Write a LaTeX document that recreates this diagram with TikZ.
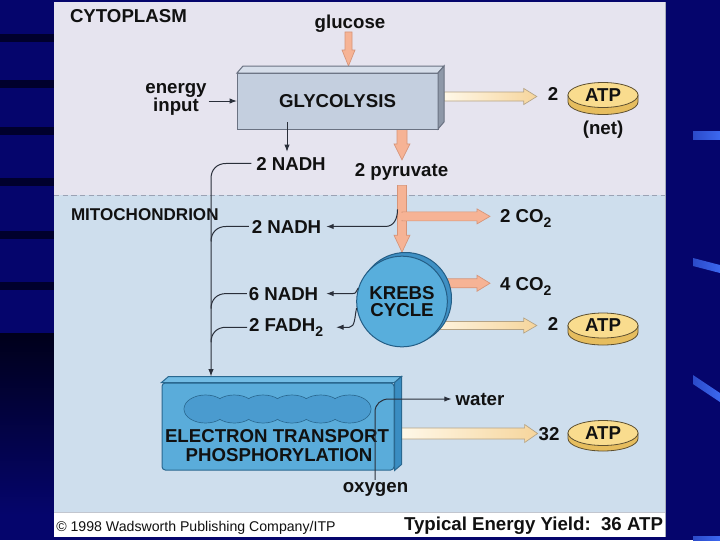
\documentclass[tikz,border=0pt]{standalone}
\usepackage{fontspec}
\setmainfont{Liberation Sans}
\usetikzlibrary{calc,arrows.meta,shapes.geometric}
\definecolor{navy}{HTML}{05056C}
\definecolor{stripe}{HTML}{00002C}
\definecolor{darkband}{HTML}{00001A}
\definecolor{deco}{HTML}{3C68F0}
\definecolor{cyto}{HTML}{E6E4EF}
\definecolor{mito}{HTML}{CEDEED}
\definecolor{dashcol}{HTML}{9AA2B4}
\definecolor{ink}{HTML}{111111}
\definecolor{wire}{HTML}{2A2F3A}
\definecolor{glyfront}{HTML}{C4CFDF}
\definecolor{glytop}{HTML}{D6DEEA}
\definecolor{glyside}{HTML}{8E98A8}
\definecolor{glyline}{HTML}{6A7282}
\definecolor{etpfront}{HTML}{5AACDA}
\definecolor{etptop}{HTML}{72BCE4}
\definecolor{etpside}{HTML}{3A8DC2}
\definecolor{etpline}{HTML}{2A6890}
\definecolor{chain}{HTML}{4A9BCF}
\definecolor{krebsfront}{HTML}{58AEDC}
\definecolor{krebsback}{HTML}{3F90C4}
\definecolor{krebsline}{HTML}{245E86}
\definecolor{salmon}{HTML}{F6B395}
\definecolor{salmonline}{HTML}{D69478}
\definecolor{creamL}{HTML}{FFF8E8}
\definecolor{creamR}{HTML}{F6D59C}
\definecolor{creamline}{HTML}{B5A385}
\definecolor{atptop}{HTML}{F9DC8E}
\definecolor{atpside}{HTML}{E6BD5E}
\definecolor{atpline}{HTML}{5E5030}
\definecolor{panelline}{HTML}{A8AEBB}
\pgfdeclarelayer{back}\pgfdeclarelayer{mid}\pgfsetlayers{back,mid,main}
\newcommand\subtwo{\raisebox{-3.4pt}{\fontsize{10.5}{10.5}\selectfont 2}}
\newcommand\vblock[6]{\path[#1] ($(#2)+(-#4,0)$) -- ($(#3)+(-#4,-#6)$) -- ($(#3)+(-#5,-#6)$) -- (#3) -- ($(#3)+(#5,-#6)$) -- ($(#3)+(#4,-#6)$) -- ($(#2)+(#4,0)$) -- cycle;}
\newcommand\hblock[6]{\path[#1] ($(#2)+(0,-#4)$) -- ($(#3)+(-#6,-#4)$) -- ($(#3)+(-#6,-#5)$) -- (#3) -- ($(#3)+(-#6,#5)$) -- ($(#3)+(-#6,#4)$) -- ($(#2)+(0,#4)$) -- cycle;}
\newcommand\atpdisc[4]{\path[fill=atpside, draw=atpline, line width=0.6pt] (#2-35,#3) -- (#2-35,#3+#4) arc[start angle=180, end angle=0, x radius=35, y radius=12.5] -- (#2+35,#3) -- cycle; \node[atpdisk] (#1) at (#2,#3) {ATP};}
\begin{document}
\begin{tikzpicture}[x=0.75pt,y=-0.75pt,
  lab/.style={font=\fontsize{14}{14}\selectfont\bfseries, text=ink, inner sep=0pt, outer sep=0pt},
  wireline/.style={draw=wire, line width=0.75pt},
  tipped/.style={-{Latex[length=5.5pt,width=4pt]}},
  salm/.style={fill=salmon, draw=salmonline, line width=0.5pt},
  cream/.style={left color=creamL, right color=creamR, draw=creamline, line width=0.5pt},
  atpdisk/.style={ellipse, fill=atptop, draw=atpline, line width=0.6pt, minimum width=52.5pt, minimum height=18.75pt, inner sep=0pt, font=\fontsize{14}{14}\selectfont\bfseries, text=ink}]
\useasboundingbox (0,0) rectangle (720,540);
\begin{pgfonlayer}{back}
\fill[navy] (0,0) rectangle (720,540);
\foreach \yy in {38,84,131,182,235,286} {\fill[stripe] (0,\yy-4) rectangle (54,\yy+4);}
\shade[top color=darkband, bottom color=navy] (0,333) rectangle (54,515);
\shade[left color=deco!70!navy, right color=deco] (693,131) rectangle (720,139);
\shade[left color=deco!70!navy, right color=deco] (693,258) -- (720,265) -- (720,273) -- (693,266) -- cycle;
\shade[left color=deco!70!navy, right color=deco] (693,375) -- (720,393) -- (720,402) -- (693,384) -- cycle;
\shade[left color=deco!70!navy, right color=deco] (693,536) rectangle (720,540);
\fill[cyto] (54,2) rectangle (665,195);
\fill[mito] (54,195) rectangle (665,512);
\fill[white] (54,512) rectangle (665,537);
\draw[panelline, line width=0.75pt] (665,2) -- (665,537);
\draw[panelline!70!white, line width=0.5pt] (54,512) -- (665,512);
\draw[dashcol, line width=0.6pt, dash pattern=on 4pt off 2.5pt] (54,195) -- (665,195);
\end{pgfonlayer}
% text labels
\node[lab, anchor=base west] (cyto) at (70,22.5) {CYTOPLASM};
\node[lab, anchor=base west, font=\fontsize{12.8}{12.8}\selectfont\bfseries] (mitolab) at (71,220) {MITOCHONDRION};
\node[lab, anchor=base] (glucose) at (350,28) {glucose};
\node[lab, anchor=base] (energy) at (176,93.5) {energy};
\node[lab, anchor=base] (input) at (176,111.5) {input};
\node[lab, anchor=base] (nadhA) at (291,170) {2 NADH};
\node[lab, anchor=base] (pyr) at (401.5,176.5) {2 pyruvate};
\node[lab, anchor=base] (nadhB) at (286.5,233) {2 NADH};
\node[lab, anchor=base west] (co2a) at (500,222.5) {2 CO\subtwo};
\node[lab, anchor=base] (nadhC) at (283.5,300) {6 NADH};
\node[lab, anchor=base west] (fadh) at (249,331.5) {2 FADH\subtwo};
\node[lab, anchor=base west] (co2b) at (500,290.5) {4 CO\subtwo};
\node[lab, anchor=base] (twoA) at (553,100) {2};
\node[lab, anchor=base] (net) at (603,134) {(net)};
\node[lab, anchor=base] (twoB) at (553,330) {2};
\node[lab, anchor=base] (water) at (480,405) {water};
\node[lab, anchor=base] (n32) at (549,440) {32};
\node[lab, anchor=base] (oxygen) at (375.5,492) {oxygen};
\node[font=\fontsize{10.6}{10.6}\selectfont, text=ink, inner sep=0pt, anchor=base west] (copy) at (56,531) {© 1998 Wadsworth Publishing Company/ITP};
\node[lab, anchor=base east] (yield) at (663,530) {Typical Energy Yield:\ \ 36 ATP};
% glycolysis box
\node[draw=glyline, fill=glyfront, line width=0.75pt, minimum width=150.75pt, minimum height=42pt, inner sep=0pt, lab] (gly) at (337.5,101) {GLYCOLYSIS};
\filldraw[fill=glytop, draw=glyline, line width=0.75pt] (gly.north west) -- ++(6,-7) -- ($(gly.north east)+(6,-7)$) -- (gly.north east) -- cycle;
\filldraw[fill=glyside, draw=glyline, line width=0.75pt] (gly.north east) -- ++(6,-7) -- ($(gly.south east)+(6,-7)$) -- (gly.south east) -- cycle;
% ETP box
\node[draw=etpline, fill=etpfront, line width=0.75pt, minimum width=174pt, minimum height=65.25pt, inner sep=0pt, rounded corners=2.5pt] (etp) at (278,426.5) {};
\filldraw[fill=etptop, draw=etpline, line width=0.75pt] (etp.north west) -- ++(7,-6) -- ($(etp.north east)+(7,-6)$) -- (etp.north east) -- cycle;
\filldraw[fill=etpside, draw=etpline, line width=0.75pt] (etp.north east) -- ++(7,-6) -- ($(etp.south east)+(7,-6)$) -- (etp.south east) -- cycle;
\foreach \i in {0,...,5} {\filldraw[fill=chain, draw=etpline, line width=0.5pt] (205.5+28.8*\i,409) ellipse [x radius=21.5, y radius=14];}
\foreach \i in {0,...,5} {\fill[chain] (205.5+28.8*\i,409) ellipse [x radius=20.8, y radius=13.3];}
\node[lab, anchor=base] (etp1) at (277,442.5) {ELECTRON TRANSPORT};
\node[lab, anchor=base] (etp2) at (279,461) {PHOSPHORYLATION};
% Krebs
\node[circle, fill=krebsback, draw=krebsline, line width=0.75pt, minimum size=69pt, inner sep=0pt] (krebsrim) at (405.5,298.5) {};
\node[circle, fill=krebsfront, draw=krebsline, line width=0.75pt, minimum size=68pt, inner sep=0pt, text=ink, font=\fontsize{14}{12.75}\selectfont\bfseries, align=center] (krebs) at (402,301.5) {KREBS\\CYCLE};
% ATP discs
\atpdisc{atpA}{603}{95}{7}
\atpdisc{atpB}{603}{325.5}{7}
\atpdisc{atpC}{603}{433}{5.5}
% block arrows
\begin{pgfonlayer}{mid}
\coordinate (gluS) at ($(glucose.south)+(-1.5,0)$);
\coordinate (gluE) at ($(gly.north)+(11,-7)$);
\vblock{salm}{gluS}{gluE}{3.5}{6.5}{16}
\coordinate (pyS) at ($(gly.south)+(64.5,0)$);
\coordinate (pyE) at ($(pyr.north)+(0.5,-3.5)$);
\vblock{salm}{pyS}{pyE}{5}{8}{16}
\coordinate (pv) at ($(pyr.south)+(0.5,5)$);
\coordinate (pvtip) at ($(krebs.north)+(0,-3.5)$);
\vblock{salm}{pv}{pvtip}{4.5}{8}{17}
\coordinate (brS) at ($(pv)+(0,31)$);
\coordinate (brE0) at (co2a.west |- brS);
\coordinate (brE) at ($(brE0)+(-10,0)$);
\hblock{salm}{brS}{brE}{4.5}{7.5}{13}
\fill[salmon] ($(pv)+(-3.8,27.2)$) rectangle ($(pv)+(8,34.8)$);
\coordinate (c4E) at ($(co2b.west)+(-10,-3)$);
\coordinate (c4S) at ($(krebs.center |- c4E)+(20,0)$);
\hblock{salm}{c4S}{c4E}{4.5}{8}{13}
\coordinate (aS) at ($(gly.east)+(6,-4.5)$);
\coordinate (aE0) at (twoA.west |- aS);
\coordinate (aE) at ($(aE0)+(-11,0)$);
\hblock{cream}{aS}{aE}{4.5}{8}{13}
\coordinate (bS) at ($(krebs.center)+(20,24)$);
\coordinate (bE0) at (twoB.west |- bS);
\coordinate (bE) at ($(bE0)+(-11,0)$);
\hblock{cream}{bS}{bE}{4}{7.5}{13}
\coordinate (cS) at ($(etp.east)+(7,7)$);
\coordinate (cE0) at (n32.west |- cS);
\coordinate (cE) at ($(cE0)+(-1,0)$);
\hblock{cream}{cS}{cE}{5.5}{9}{13}
\end{pgfonlayer}
% thin connectors
\draw[wireline,tipped] ($(energy.east |- gly.west)+(2,0)$) -- (gly.west);
\draw[wireline,tipped] ($(gly.south)+(-50.5,-7)$) -- ($(nadhA.north)+(-4,-5)$);
\coordinate (bus) at (211,0);
\draw[wireline,tipped] ($(nadhA.west)+(-5,0)$) -- ($(bus |- nadhA.west)+(15,0)$) .. controls +(-9,0) and +(0,-9) .. ($(bus |- nadhA.west)+(0,15)$) -- ($(bus |- etp.north)+(0,-6)$);
\draw[wireline] ($(nadhB.west)+(-3,0)$) -- ($(bus |- nadhB.west)+(15,0)$) .. controls +(-9,0) and +(0,-9) .. ($(bus |- nadhB.west)+(0,15)$);
\draw[wireline] ($(nadhC.west)+(-2,0)$) -- ($(bus |- nadhC.west)+(15,0)$) .. controls +(-9,0) and +(0,-9) .. ($(bus |- nadhC.west)+(0,15)$);
\draw[wireline] ($(fadh.west)+(-2,0)$) -- ($(bus |- fadh.west)+(15,0)$) .. controls +(-9,0) and +(0,-9) .. ($(bus |- fadh.west)+(0,15)$);
\draw[wireline,tipped] ($(pv)+(-4.5,24)$) .. controls +(0,9) and +(9,0) .. ($(nadhB.east)+(64,0)$) -- ($(nadhB.east)+(5,0)$);
\draw[wireline,tipped] (krebs.163) .. controls +(-3,5) and +(5,0) .. ($(nadhC.east)+(33,0)$) -- ($(nadhC.east)+(8,0)$);
\draw[wireline,tipped] (krebs.188) .. controls +(-2,9) and +(6,0) .. ($(fadh.east)+(26,0)$) -- ($(fadh.east)+(13,0)$);
\coordinate (oxS) at ($(oxygen.north)+(-0.5,-2)$);
\draw[wireline,tipped] (oxS) -- ($(oxS |- water.west)+(0,13)$) .. controls +(0,-8) and +(-8,0) .. ($(oxS |- water.west)+(14,0)$) -- ($(water.west)+(-4,0)$);
\end{tikzpicture}
\end{document}
